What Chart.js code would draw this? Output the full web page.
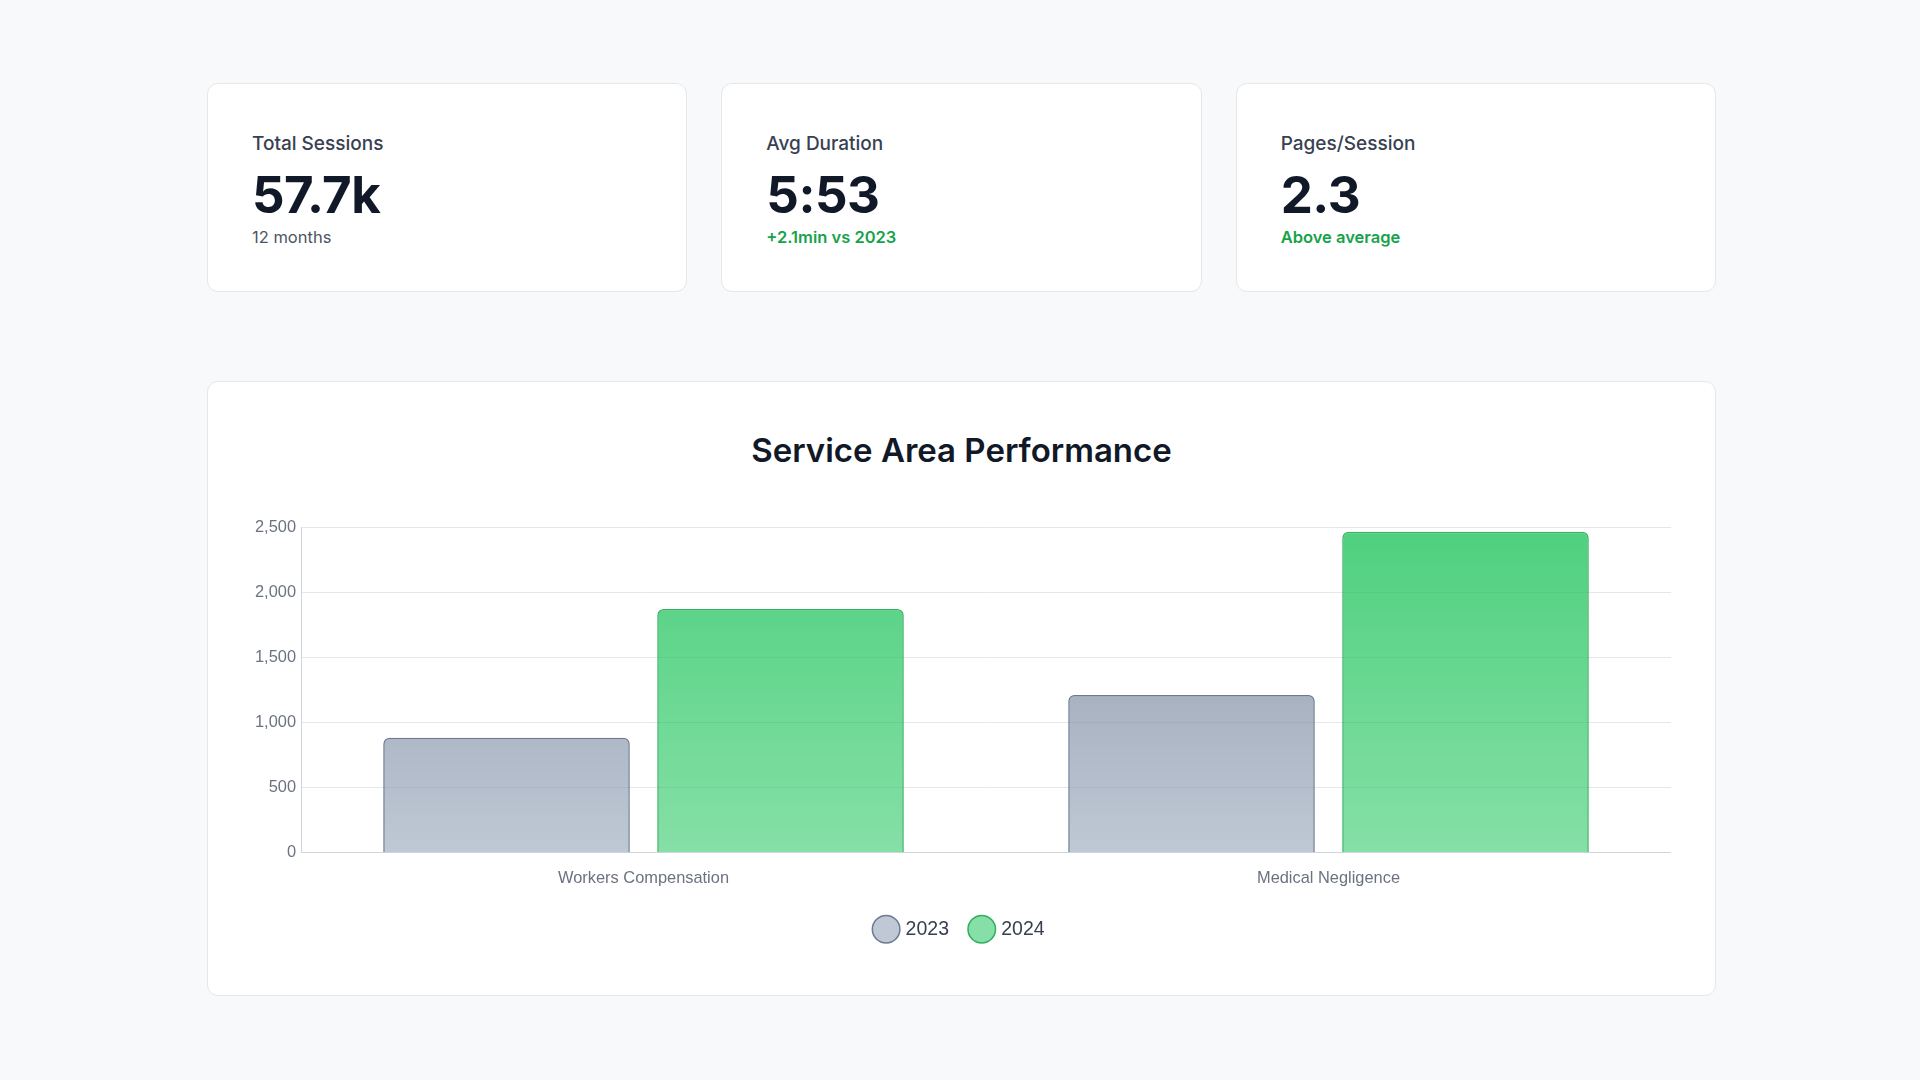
<!DOCTYPE html>
<html>
<head>
<meta charset="utf-8">
<title>Service Area Performance</title>
<script src="https://cdn.jsdelivr.net/npm/chart.js@4.4.1/dist/chart.umd.min.js"></script>
<style>
    * { box-sizing: border-box; margin: 0; padding: 0; }
    body {
        width: 1920px;
        height: 1080px;
        background: #f8f9fb;
        font-family: Inter, "Noto Sans", sans-serif;
        overflow: hidden;
    }
    .wrap {
        position: absolute;
        left: 207px;
        top: 83px;
        width: 1509px;
    }
    .kpis {
        display: grid;
        grid-template-columns: repeat(3, 1fr);
        gap: 34px;
    }
    .card {
        background: #fff;
        border: 1px solid #e5e7eb;
        border-radius: 11px;
    }
    .kpi {
        height: 209px;
        padding: 49px 40px 0 44px;
    }
    .kpi .label {
        font-size: 19px;
        line-height: 22.8px;
        font-weight: 500;
        color: #374151;
    }
    .kpi .value {
        font-size: 51px;
        line-height: 56px;
        font-weight: 700;
        color: #111827;
        letter-spacing: -0.5px;
        margin-top: 11px;
    }
    .kpi .note {
        font-size: 16.5px;
        line-height: 19.2px;
        color: #4b5563;
        margin-top: 5px;
    }
    .kpi .note.good {
        color: #16a34a;
        font-weight: 600;
    }
    .chart-card {
        margin-top: 89px;
        height: 615px;
        padding: 48px 44px 0 42px;
    }
    .chart-card h2 {
        font-size: 33px;
        line-height: 40.8px;
        font-weight: 600;
        color: #111827;
        text-align: center;
        margin-left: 2px;
    }
    .chart-box {
        position: relative;
        margin-top: 42px;
        height: 436px;
    }
</style>
</head>
<body>
<div class="wrap">
    <div class="kpis" id="kpis"></div>
    <div class="card chart-card">
        <h2>Service Area Performance</h2>
        <div class="chart-box"><canvas id="myChart"></canvas></div>
    </div>
</div>
<script>
// kpi cards
const kpiLabels = ['Total Sessions', 'Avg Duration', 'Pages/Session'];
const kpiValues = ['57.7k', '5:53', '2.3'];
const kpiNotes = ['12 months', '+2.1min vs 2023', 'Above average'];
const kpiNoteGood = [false, true, true];

// chart data
const categories = ['Workers Compensation', 'Medical Negligence'];
const seriesNames = ['2023', '2024'];
const sessions2023 = [885, 1215];
const sessions2024 = [1875, 2470];
const yMax = 2500;
const yStep = 500;

let kpiBox = document.getElementById('kpis');
for (let i = 0; i < kpiLabels.length; i++) {
    let card = document.createElement('div');
    card.className = 'card kpi';
    card.innerHTML =
        `<div class="label">${kpiLabels[i]}</div>` +
        `<div class="value">${kpiValues[i]}</div>` +
        `<div class="note${kpiNoteGood[i] ? ' good' : ''}">${kpiNotes[i]}</div>`;
    kpiBox.appendChild(card);
}

function makeGradient(top, bottom) {
    return (context) => {
        const chart = context.chart;
        const area = chart.chartArea;
        if (!area) return bottom;
        const g = chart.ctx.createLinearGradient(0, area.top, 0, area.bottom);
        g.addColorStop(0, top);
        g.addColorStop(1, bottom);
        return g;
    };
}

const tickFont = { family: "'Liberation Sans', Arial, sans-serif", size: 16.4 };

let ctx = document.getElementById('myChart');
let myChart = new Chart(ctx, {
    type: 'bar',
    data: {
        labels: categories,
        datasets: [{
            label: seriesNames[0],
            data: sessions2023,
            backgroundColor: makeGradient('rgba(100,116,139,0.75)', 'rgba(148,163,184,0.6)'),
            borderColor: 'rgba(100,116,139,0.95)',
            borderWidth: 1.5,
            borderRadius: 6
        }, {
            label: seriesNames[1],
            data: sessions2024,
            backgroundColor: makeGradient('rgba(34,197,94,0.8)', 'rgba(34,197,94,0.55)'),
            borderColor: 'rgba(22,163,74,0.85)',
            borderWidth: 1.5,
            borderRadius: 6
        }]
    },
    options: {
        responsive: true,
        maintainAspectRatio: false,
        animation: false,
        devicePixelRatio: 1,
        scales: {
            y: {
                min: 0,
                max: yMax,
                ticks: {
                    stepSize: yStep,
                    color: '#6b7280',
                    font: tickFont,
                    padding: 5
                },
                grid: { color: '#e5e7eb', drawTicks: false },
                border: { color: '#d1d5db' }
            },
            x: {
                ticks: {
                    color: '#6b7280',
                    font: tickFont,
                    padding: 8
                },
                grid: { display: false },
                border: { color: '#d1d5db' }
            }
        },
        plugins: {
            legend: {
                position: 'bottom',
                labels: {
                    usePointStyle: true,
                    pointStyle: 'circle',
                    color: '#374151',
                    font: { family: "'Liberation Sans', Arial, sans-serif", size: 19.5 },
                    padding: 23
                }
            },
            tooltip: { enabled: false }
        }
    }
});
</script>
</body>
</html>
